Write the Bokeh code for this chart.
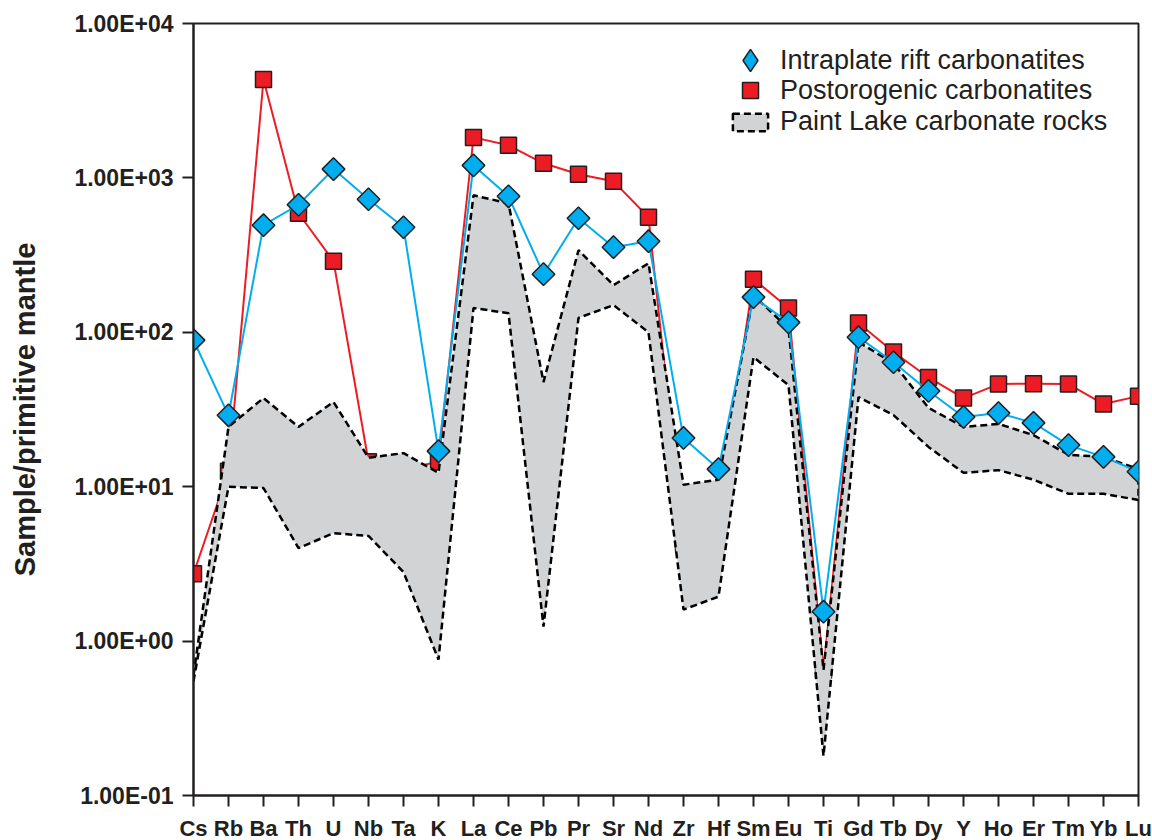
from bokeh.plotting import figure
from bokeh.models import Range1d, FixedTicker, Legend, LegendItem, ColumnDataSource
from bokeh.embed import file_html
from bokeh.resources import INLINE
import math

elements = ["Cs", "Rb", "Ba", "Th", "U", "Nb", "Ta", "K", "La", "Ce", "Pb", "Pr", "Sr", "Nd",
            "Zr", "Hf", "Sm", "Eu", "Ti", "Gd", "Tb", "Dy", "Y", "Ho", "Er", "Tm", "Yb", "Lu"]

intraplate = [89, 29, 494, 670, 1140, 727, 479, 17, 1205, 760, 238, 548, 356, 389,
              20.7, 13.0, 169, 116, 1.55, 93, 64, 41.7, 28.3, 30, 25.9, 18.6, 15.6, 12.5]

postorogenic = [2.73, 12.6, 4340, 590, 289, 14.5, 13, 14.5, 1830, 1625, 1243, 1055, 950, 556,
                4.3, 7, 221, 143.5, 0.65, 115, 74.5, 51, 37.5, 46.2, 46.5, 46.2, 34.3, 38.6]

paint_upper = [0.6, 24.4, 37.5, 24.4, 35.4, 15.4, 16.5, 12.3, 771, 685, 47.6, 340, 202, 280,
               10.3, 11.1, 174, 106, 0.65, 86.5, 63, 32.4, 24.4, 25.5, 21.6, 16.1, 15.6, 13.0]
paint_lower = [0.55, 10, 9.8, 4.0, 5.0, 4.8, 2.8, 0.76, 143.5, 133, 1.24, 124, 150, 100,
               1.6, 1.94, 69, 45.5, 0.18, 38, 29.1, 18.1, 12.3, 12.8, 11.1, 9.0, 9.0, 8.2]

y_tick_values = [0.1, 1, 10, 100, 1000, 10000]
y_tick_labels = ["1.00E-01", "1.00E+00", "1.00E+01", "1.00E+02", "1.00E+03", "1.00E+04"]

series_labels = ["Intraplate rift carbonatites", "Postorogenic carbonatites", "Paint Lake carbonate rocks"]
y_title = "Sample/primitive mantle"

BLUE = "#00AEEF"
RED = "#ED1C24"
GREY = "#D1D3D4"
INK = "#231F20"
FONT = "Liberation Sans"

xs = list(range(len(elements)))

p = figure(frame_width=945, frame_height=772,
           x_range=Range1d(0, len(elements) - 1), y_range=Range1d(0.1, 10000),
           y_axis_type="log", output_backend="svg", toolbar_location=None,
           min_border_left=193, min_border_right=14, min_border_top=23, min_border_bottom=30)

p.xgrid.visible = False
p.ygrid.visible = False
p.outline_line_color = INK
p.outline_line_width = 2
p.background_fill_color = "white"
p.border_fill_color = "white"

# x axis
xa = p.xaxis[0]
xa.ticker = FixedTicker(ticks=xs, minor_ticks=[])
xa.major_label_overrides = {i: e for i, e in zip(xs, elements)}
xa.major_label_text_font = FONT
xa.major_label_text_font_style = "bold"
xa.major_label_text_font_size = "22px"
xa.major_label_text_color = INK
xa.major_tick_out = 11
xa.major_tick_in = 0
xa.minor_tick_out = 0
xa.minor_tick_in = 0
xa.major_tick_line_width = 2
xa.major_tick_line_color = INK
xa.axis_line_width = 2
xa.axis_line_color = INK
xa.major_label_standoff = 9

# y axis
ya = p.yaxis[0]
ya.ticker = FixedTicker(ticks=y_tick_values, minor_ticks=[])
ya.major_label_overrides = {v: s for v, s in zip(y_tick_values, y_tick_labels)}
ya.major_label_text_font = FONT
ya.major_label_text_font_style = "bold"
ya.major_label_text_font_size = "23px"
ya.major_label_text_color = INK
ya.major_tick_out = 11
ya.major_tick_in = 0
ya.minor_tick_out = 0
ya.minor_tick_in = 0
ya.major_tick_line_width = 2
ya.major_tick_line_color = INK
ya.axis_line_width = 2
ya.axis_line_color = INK
ya.major_label_standoff = 9
ya.axis_label = y_title
ya.axis_label_text_font = FONT
ya.axis_label_text_font_style = "bold"
ya.axis_label_text_font_size = "29px"
ya.axis_label_text_color = INK
ya.axis_label_standoff = 30

# postorogenic (drawn beneath the band, as in the reference)
red_src = ColumnDataSource(dict(x=xs, y=postorogenic))
p.line("x", "y", source=red_src, line_color=RED, line_width=2)
red_sc = p.scatter("x", "y", source=red_src, marker="square", size=16,
                   fill_color=RED, line_color=INK, line_width=1.5)

# Paint Lake band
band_x = xs + xs[::-1]
band_y = paint_upper + paint_lower[::-1]
band = p.patch(band_x, band_y, fill_color=GREY, line_color="black",
               line_width=2.5, line_dash="7 4")

# intraplate
blue_src = ColumnDataSource(dict(x=xs, y=intraplate))
p.line("x", "y", source=blue_src, line_color=BLUE, line_width=2)
blue_sc = p.scatter("x", "y", source=blue_src, marker="square", size=16, angle=math.pi / 4,
                    fill_color=BLUE, line_color=INK, line_width=1.5)
# same data with Bokeh's diamond marker, used only for the legend swatch
blue_key = p.scatter("x", "y", source=blue_src, marker="diamond", size=22,
                     fill_color=BLUE, line_color=INK, line_width=1.5, visible=False)


def make_legend(label, rend, loc, gw, gh, standoff):
    return Legend(items=[LegendItem(label=label, renderers=[rend])], location=loc,
                  glyph_width=gw, glyph_height=gh, label_standoff=standoff,
                  label_text_font=FONT, label_text_font_size="27px", label_text_color=INK,
                  padding=0, margin=0, spacing=0, border_line_color=None,
                  background_fill_alpha=0)


p.add_layout(make_legend(series_labels[0], blue_key, (529, 707), 56, 56, 2))
p.add_layout(make_legend(series_labels[1], red_sc, (537, 685), 40, 40, 10))
p.add_layout(make_legend(series_labels[2], band, (535, 658), 44, 22, 8))

open("out.html", "w").write(file_html(p, INLINE))
